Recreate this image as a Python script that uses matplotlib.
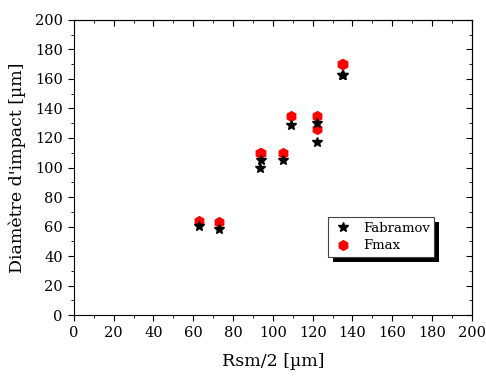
import numpy as np
import matplotlib.pyplot as plt
import matplotlib.patheffects as pe
from matplotlib.ticker import MultipleLocator

# data
rsm = [63, 73, 93.5, 94, 105, 109, 122, 122, 134.5, 135]
fabramov = [60.5, 58, 100, 105, 105, 129, 130, 117, 163, 163]
fmax = [64, 63, 110, 110, 110, 135, 135, 126, 170, 170]

plt.rcParams['font.family'] = ['DejaVu Serif']

fig = plt.figure(figsize=(4.86, 3.76), dpi=100)
ax = fig.add_axes([0.152, 0.162, 0.819, 0.785])

ax.plot(rsm, fabramov, ls='none', marker='*', color='black', ms=7.5, label='Fabramov', zorder=3)
ax.plot(rsm, fmax, ls='none', marker='h', color='red', ms=7, label='Fmax', zorder=2)

ax.set_xlim(0, 200)
ax.set_ylim(0, 200)
ax.xaxis.set_major_locator(MultipleLocator(20))
ax.yaxis.set_major_locator(MultipleLocator(20))
ax.xaxis.set_minor_locator(MultipleLocator(10))
ax.yaxis.set_minor_locator(MultipleLocator(10))
ax.tick_params(which='both', direction='out', top=False, right=False, labelsize=10.5)
ax.tick_params(which='major', length=4.5)
ax.tick_params(which='minor', length=2.5)

# inward ticks on top and right
ax2 = ax.secondary_xaxis('top')
ax2.xaxis.set_major_locator(MultipleLocator(20))
ax2.xaxis.set_minor_locator(MultipleLocator(10))
ax2.tick_params(which='both', direction='in', labeltop=False)
ax2.tick_params(which='major', length=4.5)
ax2.tick_params(which='minor', length=2.5)
ax3 = ax.secondary_yaxis('right')
ax3.yaxis.set_major_locator(MultipleLocator(20))
ax3.yaxis.set_minor_locator(MultipleLocator(10))
ax3.tick_params(which='both', direction='in', labelright=False)
ax3.tick_params(which='major', length=4.5)
ax3.tick_params(which='minor', length=2.5)

ax.set_xlabel('Rsm/2 [µm]', fontsize=12.5, labelpad=9)
ax.set_ylabel("Diamètre d'impact [µm]", fontsize=12.5, labelpad=6)

leg = ax.legend(loc='lower left', bbox_to_anchor=(0.638, 0.197), borderaxespad=0,
                fancybox=False, edgecolor='#444444', fontsize=9.5, framealpha=1,
                borderpad=0.35, handlelength=1.6, handletextpad=0.7,
                labelspacing=0.35)
leg.get_frame().set_linewidth(0.8)
leg.get_frame().set_path_effects([
    pe.SimplePatchShadow(offset=(3.5, -3.5), shadow_rgbFace='black', alpha=1),
    pe.Normal()])

fig.savefig('out.png', dpi=100)
